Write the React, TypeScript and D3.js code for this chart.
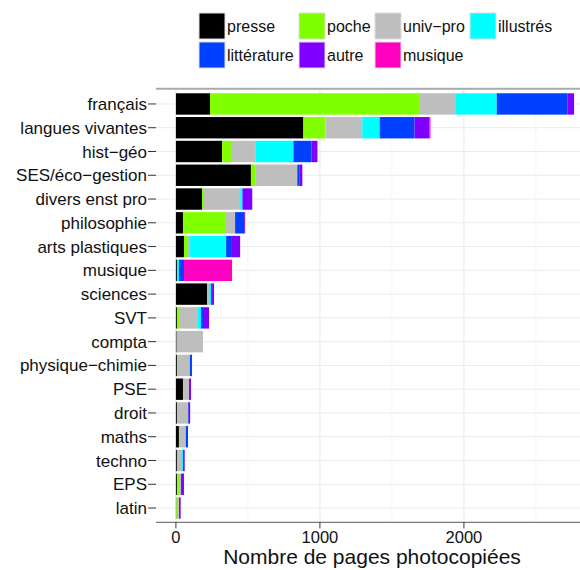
import React from "react";
import * as d3 from "d3";

const categories = ["français","langues vivantes","hist−géo","SES/éco−gestion","divers enst pro","philosophie","arts plastiques","musique","sciences","SVT","compta","physique−chimie","PSE","droit","maths","techno","EPS","latin"];
const seriesNames = ["presse","poche","univ−pro","illustrés","littérature","autre","musique"];
const seriesColors = ["#000000","#80FF00","#BEBEBE","#00FFFF","#0040FF","#8000FF","#FF00C0"];
const presse =  [237, 885, 321, 521, 181, 49, 56, 7, 216, 7, 5, 7, 49, 7, 21, 7, 7, 3];
const poche =   [1457, 153, 62, 34, 14, 292, 21, 0, 0, 21, 0, 7, 0, 0, 7, 0, 14, 14];
const univPro = [251, 256, 168, 288, 251, 70, 21, 0, 14, 125, 183, 77, 42, 77, 35, 35, 14, 4];
const illustres = [283, 121, 265, 0, 16, 0, 251, 14, 14, 21, 0, 7, 0, 0, 7, 7, 0, 0];
const litterature = [490, 242, 125, 17, 0, 63, 34, 35, 7, 21, 0, 7, 7, 5, 7, 7, 7, 0];
const autre =   [47, 104, 42, 18, 68, 7, 63, 0, 14, 35, 0, 7, 7, 10, 7, 5, 14, 12];
const musique = [0, 7, 0, 0, 0, 0, 0, 334, 0, 0, 0, 0, 0, 0, 0, 0, 0, 0];
const xTicks = [0, 1000, 2000];
const xMinorTicks = [500, 1500, 2500];
const xTitle = "Nombre de pages photocopiées";

const W = 580, H = 570;
const panel = { left: 156, right: 594, top: 89.7, bottom: 522.3 };
const FONT = "Liberation Sans, Arial, sans-serif";

export default function App() {
  const seriesData = [presse, poche, univPro, illustres, litterature, autre, musique];
  const rows = categories.map((c, i) => {
    const r: any = { cat: c };
    seriesNames.forEach((s, j) => (r[s] = seriesData[j][i]));
    return r;
  });
  const stacked = d3.stack<any>().keys(seriesNames)(rows);
  const totals = rows.map((r) => d3.sum(seriesNames, (s) => r[s]));
  const maxV = d3.max(totals) as number;
  const x = d3.scaleLinear().domain([-0.05 * maxV, maxV * 1.05]).range([panel.left, panel.right]);
  const y = d3.scaleBand().domain(categories).range([panel.top, panel.bottom]).paddingInner(0.1).paddingOuter(0.15);

  const legendCols = [199, 299, 375, 470];
  const legendRows = [13, 42];

  return (
    <svg width={W} height={H} style={{ position: "absolute", left: 0, top: 0 }} fontFamily={FONT}>
      <rect width={W} height={H} fill="#fff" />
      {/* grid */}
      {categories.map((c) => (
        <line key={c} x1={panel.left} x2={panel.right} y1={(y(c) as number) + y.bandwidth() / 2} y2={(y(c) as number) + y.bandwidth() / 2} stroke="#ebebeb" strokeWidth={1} />
      ))}
      {xMinorTicks.map((t) => (
        <line key={"m" + t} x1={x(t)} x2={x(t)} y1={panel.top} y2={panel.bottom} stroke="#f5f5f5" strokeWidth={1} />
      ))}
      {xTicks.map((t) => (
        <line key={"M" + t} x1={x(t)} x2={x(t)} y1={panel.top} y2={panel.bottom} stroke="#ebebeb" strokeWidth={1.2} />
      ))}
      {/* bars */}
      {stacked.map((layer, j) => (
        <g key={layer.key} fill={seriesColors[j]}>
          {layer.map((d, i) =>
            d[1] - d[0] > 0 ? (
              <rect key={i} x={x(d[0])} width={x(d[1]) - x(d[0])} y={y(categories[i])} height={y.bandwidth()} />
            ) : null
          )}
        </g>
      ))}
      {/* top border */}
      <line x1={panel.left} x2={W} y1={panel.top - 1} y2={panel.top - 1} stroke="#aaaaaa" strokeWidth={2} />
      {/* bottom axis */}
      <line x1={panel.left} x2={W} y1={panel.bottom} y2={panel.bottom} stroke="#555" strokeWidth={1} />
      {xTicks.map((t) => (
        <g key={"t" + t}>
          <line x1={x(t)} x2={x(t)} y1={panel.bottom} y2={panel.bottom + 6} stroke="#333" strokeWidth={1} />
          <text x={x(t)} y={panel.bottom + 21} textAnchor="middle" fontSize={16.5} fill="#111">{t}</text>
        </g>
      ))}
      <text x={372} y={564} textAnchor="middle" fontSize={21} fill="#111">{xTitle}</text>
      {/* y axis labels */}
      {categories.map((c) => {
        const cy = (y(c) as number) + y.bandwidth() / 2;
        return (
          <g key={"l" + c}>
            <line x1={panel.left - 8} x2={panel.left} y1={cy} y2={cy} stroke="#333" strokeWidth={1} />
            <text x={panel.left - 9} y={cy + 6} textAnchor="end" fontSize={17} fill="#111">{c}</text>
          </g>
        );
      })}
      {/* legend */}
      {seriesNames.map((s, j) => {
        const col = j < 4 ? j : j - 4;
        const row = j < 4 ? 0 : 1;
        const lx = legendCols[col];
        const ly = legendRows[row];
        return (
          <g key={"lg" + s}>
            <rect x={lx} y={ly} width={26} height={26} fill={seriesColors[j]} stroke="#dddddd" strokeWidth={1} />
            <text x={lx + 28} y={ly + 19} fontSize={16} fill="#111">{s}</text>
          </g>
        );
      })}
    </svg>
  );
}
